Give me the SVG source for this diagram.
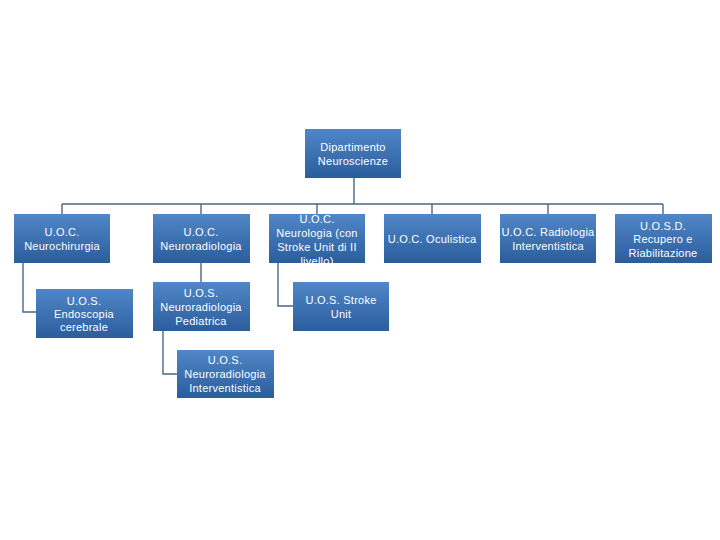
<svg xmlns="http://www.w3.org/2000/svg" width="720" height="540" viewBox="0 0 720 540">
<style>
.box{fill:url(#g);}
.t{font-family:"Liberation Sans",Arial,sans-serif;font-size:11px;fill:#ffffff;text-anchor:middle;letter-spacing:0.25px;}
.c{fill:none;stroke:#4a6786;stroke-width:1.4;}
</style>
<defs>
<linearGradient id="g" x1="0" y1="0" x2="0" y2="1">
<stop offset="0" stop-color="#5087c8"/>
<stop offset="1" stop-color="#2b5d9c"/>
</linearGradient>
</defs>
<rect width="720" height="540" fill="#ffffff"/>
<g id="connectors">
<path class="c" d="M354 178 V204 M62 204 H663 M62 204 V214 M201 204 V214 M317 204 V214 M432 204 V214 M548 204 V214 M663 204 V214"/>
<path class="c" d="M23 263 V312 H36"/>
<path class="c" d="M201 263 V282"/>
<path class="c" d="M278 263 V306 H293"/>
<path class="c" d="M163 331 V374 H177"/>
</g>
<g id="root">
<rect class="box" x="305" y="129" width="96" height="49"/>
<text class="t" x="353" y="151">Dipartimento</text>
<text class="t" x="353" y="165">Neuroscienze</text>
</g>
<g id="neurochirurgia">
<rect class="box" x="14" y="214" width="96" height="49"/>
<text class="t" x="62" y="236">U.O.C.</text>
<text class="t" x="62" y="250">Neurochirurgia</text>
</g>
<g id="neuroradiologia">
<rect class="box" x="153" y="214" width="97" height="49"/>
<text class="t" x="201" y="236">U.O.C.</text>
<text class="t" x="201" y="250">Neuroradiologia</text>
</g>
<g id="neurologia">
<rect class="box" x="269" y="214" width="96" height="49"/>
<text class="t" x="317" y="223">U.O.C.</text>
<text class="t" x="317" y="237">Neurologia (con</text>
<text class="t" x="317" y="251">Stroke Unit di II</text>
<text class="t" x="317" y="265">livello)</text>
</g>
<g id="oculistica">
<rect class="box" x="384" y="214" width="97" height="49"/>
<text class="t" x="432" y="243">U.O.C. Oculistica</text>
</g>
<g id="radiologia">
<rect class="box" x="500" y="214" width="96" height="49"/>
<text class="t" x="548" y="236">U.O.C. Radiologia</text>
<text class="t" x="548" y="250">Interventistica</text>
</g>
<g id="recupero">
<rect class="box" x="615" y="214" width="97" height="49"/>
<text class="t" x="663" y="230">U.O.S.D.</text>
<text class="t" x="663" y="243">Recupero e</text>
<text class="t" x="663" y="257">Riabilitazione</text>
</g>
<g id="endoscopia">
<rect class="box" x="36" y="289" width="97" height="49"/>
<text class="t" x="84" y="305">U.O.S.</text>
<text class="t" x="84" y="318">Endoscopia</text>
<text class="t" x="84" y="331">cerebrale</text>
</g>
<g id="pediatrica">
<rect class="box" x="153" y="282" width="97" height="49"/>
<text class="t" x="201" y="297">U.O.S.</text>
<text class="t" x="201" y="311">Neuroradiologia</text>
<text class="t" x="201" y="325">Pediatrica</text>
</g>
<g id="strokeunit">
<rect class="box" x="293" y="282" width="96" height="49"/>
<text class="t" x="341" y="304">U.O.S. Stroke</text>
<text class="t" x="341" y="318">Unit</text>
</g>
<g id="interventistica">
<rect class="box" x="177" y="350" width="97" height="48"/>
<text class="t" x="225" y="364">U.O.S.</text>
<text class="t" x="225" y="378">Neuroradiologia</text>
<text class="t" x="225" y="392">Interventistica</text>
</g>
</svg>
